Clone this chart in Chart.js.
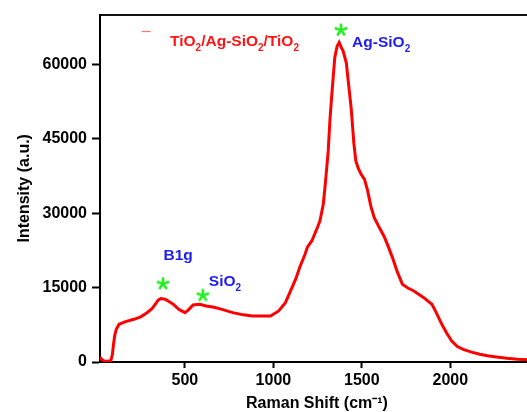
<!DOCTYPE html>
<html lang="en">
<head>
<meta charset="UTF-8">
<title>Raman spectrum - TiO2/Ag-SiO2/TiO2</title>
<script src="https://cdn.jsdelivr.net/npm/chart.js"></script>
<style>
  html, body { margin: 0; padding: 0; background: #fff; overflow: hidden; }
  /* the original figure is cropped on the right, so the plot runs past the window edge */
  .wrap { position: relative; width: 543px; height: 412px; }
</style>
</head>
<body>
<div class="wrap"><canvas id="ramanChart"></canvas></div>
<script>
// spectrum
const ramanShift = [20, 30, 44, 60, 81, 90, 96, 103, 112, 128, 160, 211, 250, 286, 315, 332, 350, 365, 388, 410,
  435, 465, 500, 520, 546, 584, 620, 658, 700, 770, 830, 882, 940, 984, 1030, 1068, 1105, 1127, 1150, 1179,
  1192, 1217, 1250, 1263, 1282, 1295, 1310, 1320, 1330, 1347, 1360, 1372, 1385, 1394, 1412, 1425, 1440, 1455,
  1466, 1480, 1496, 1515, 1533, 1550, 1570, 1600, 1626, 1650, 1673, 1700, 1729, 1760, 1794, 1850, 1896, 1920,
  1952, 1980, 2008, 2040, 2073, 2120, 2166, 2210, 2260, 2320, 2380, 2440, 2473];
const intensity = [1000, 500, 200, 150, 250, 1500, 3500, 5300, 6600, 7600, 8100, 8600, 9100, 9940, 10800, 11620, 12500, 12800, 12650, 12200,
  11620, 10600, 9940, 10500, 11490, 11620, 11300, 11080, 10700, 9940, 9500, 9270, 9250, 9270, 10280, 11960, 14980, 16800, 19200, 21700,
  23140, 24390, 27200, 28420, 31780, 36500, 42530, 49000, 53800, 61350, 63600, 64400, 63300, 62690, 60300, 56000, 51000, 44000,
  40500, 39000, 37830, 36800, 34470, 31500, 29090, 27000, 25300, 23200, 21030, 18200, 15650, 14900, 14310, 12970, 11620, 10000,
  7590, 5800, 4230, 3100, 2550, 2000, 1550, 1250, 1010, 750, 540, 450, 420];

const xTicks = [500, 1000, 1500, 2000];
const yTicks = [0, 15000, 30000, 45000, 60000];

// green asterisks marking the peaks
const starX = [376, 601, 1382];
const starY = [15770, 13420, 66880];

// text labels: pieces are [text, isSubscript]
const labelParts = [
  [['TiO', 0], ['2', 1], ['/Ag-SiO', 0], ['2', 1], ['/TiO', 0], ['2', 1]],
  [['Ag-SiO', 0], ['2', 1]],
  [['B1g', 0]],
  [['SiO', 0], ['2', 1]]
];
const labelX = [416, 1445, 379, 635];
const labelY = [63700, 63500, 20600, 15400];
const labelColor = ['#ff1414', '#1c1cf0', '#1c1cf0', '#1c1cf0'];

const FONT = "'Liberation Sans', Arial, sans-serif";

// five-armed asterisk used as point marker
function makeAsterisk() {
  const c = document.createElement('canvas');
  c.width = 16; c.height = 16;
  const g = c.getContext('2d');
  g.strokeStyle = '#22ee22';
  g.lineWidth = 2.6;
  for (let k = 0; k < 5; k++) {
    const a = -Math.PI / 2 + k * 2 * Math.PI / 5;
    g.beginPath();
    g.moveTo(8, 8);
    g.lineTo(8 + 6.5 * Math.cos(a), 8 + 6.5 * Math.sin(a));
    g.stroke();
  }
  return c;
}

const annotate = {
  id: 'annotate',
  afterDatasetsDraw(chart) {
    const ctx = chart.ctx;
    const x = chart.scales.x, y = chart.scales.y;
    ctx.save();
    // tiny legend stroke left of the sample name
    ctx.strokeStyle = '#ff7070';
    ctx.lineWidth = 1.2;
    ctx.beginPath();
    ctx.moveTo(x.getPixelForValue(256), Math.round(y.getPixelForValue(66600)) + 0.5);
    ctx.lineTo(x.getPixelForValue(306), Math.round(y.getPixelForValue(66600)) + 0.5);
    ctx.stroke();

    ctx.textAlign = 'left';
    ctx.textBaseline = 'alphabetic';
    labelParts.forEach((parts, i) => {
      let px = x.getPixelForValue(labelX[i]);
      const py = y.getPixelForValue(labelY[i]);
      ctx.fillStyle = labelColor[i];
      parts.forEach(([s, sub]) => {
        ctx.font = sub ? 'bold 10px ' + FONT : 'bold 15.5px ' + FONT;
        ctx.fillText(s, px, sub ? py + 5 : py);
        px += ctx.measureText(s).width;
      });
    });
    ctx.restore();
  }
};

const ctx = document.getElementById('ramanChart').getContext('2d');
new Chart(ctx, {
  type: 'scatter',
  data: {
    datasets: [
      {
        label: 'TiO2/Ag-SiO2/TiO2',
        data: ramanShift.map((v, i) => ({ x: v, y: intensity[i] })),
        showLine: true,
        borderColor: '#ff0000',
        borderWidth: 3,
        pointRadius: 0,
        tension: 0,
        order: 2
      },
      {
        label: 'peaks',
        data: starX.map((v, i) => ({ x: v, y: starY[i] })),
        showLine: false,
        pointStyle: makeAsterisk(),
        pointRadius: 8,
        order: 1
      }
    ]
  },
  options: {
    responsive: true,
    maintainAspectRatio: false,
    animation: false,
    layout: { padding: { top: 14, left: 0, right: 0, bottom: 0 } },
    plugins: {
      legend: { display: false },
      tooltip: { enabled: false }
    },
    scales: {
      x: {
        type: 'linear',
        min: 20,
        max: 2473,
        afterBuildTicks: s => { s.ticks = xTicks.map(v => ({ value: v })); },
        afterFit: s => { s.height = 50; },
        ticks: {
          color: '#000',
          padding: 3,
          maxRotation: 0,
          font: { family: FONT, size: 16, weight: 'bold' },
          callback: v => String(v)
        },
        grid: { drawOnChartArea: false, drawTicks: true, tickLength: 6, tickWidth: 2, tickColor: '#000' },
        border: { display: true, color: '#000', width: 2 },
        title: {
          display: true,
          text: 'Raman Shift (cm\u207B\u00B9)',
          color: '#000',
          font: { family: FONT, size: 16, weight: 'bold', lineHeight: 1 },
          padding: { top: 5, bottom: 0 }
        }
      },
      xTop: {
        type: 'linear',
        position: 'top',
        min: 20,
        max: 2473,
        ticks: { display: false },
        grid: { display: false, drawTicks: false },
        border: { display: true, color: '#111', width: 2 }
      },
      y: {
        type: 'linear',
        min: 0,
        max: 70000,
        afterBuildTicks: s => { s.ticks = yTicks.map(v => ({ value: v })); },
        afterFit: s => { s.width = 100; },
        ticks: {
          color: '#000',
          padding: 5,
          font: { family: FONT, size: 16, weight: 'bold' },
          callback: v => String(v)
        },
        grid: { drawOnChartArea: false, drawTicks: true, tickLength: 8, tickWidth: 2, tickColor: '#000' },
        border: { display: true, color: '#000', width: 2 },
        title: {
          display: true,
          text: 'Intensity (a.u.)',
          color: '#000',
          font: { family: FONT, size: 16, weight: 'bold' },
          padding: { top: 15, bottom: 4 }
        }
      }
    }
  },
  plugins: [annotate]
});
</script>
</body>
</html>
